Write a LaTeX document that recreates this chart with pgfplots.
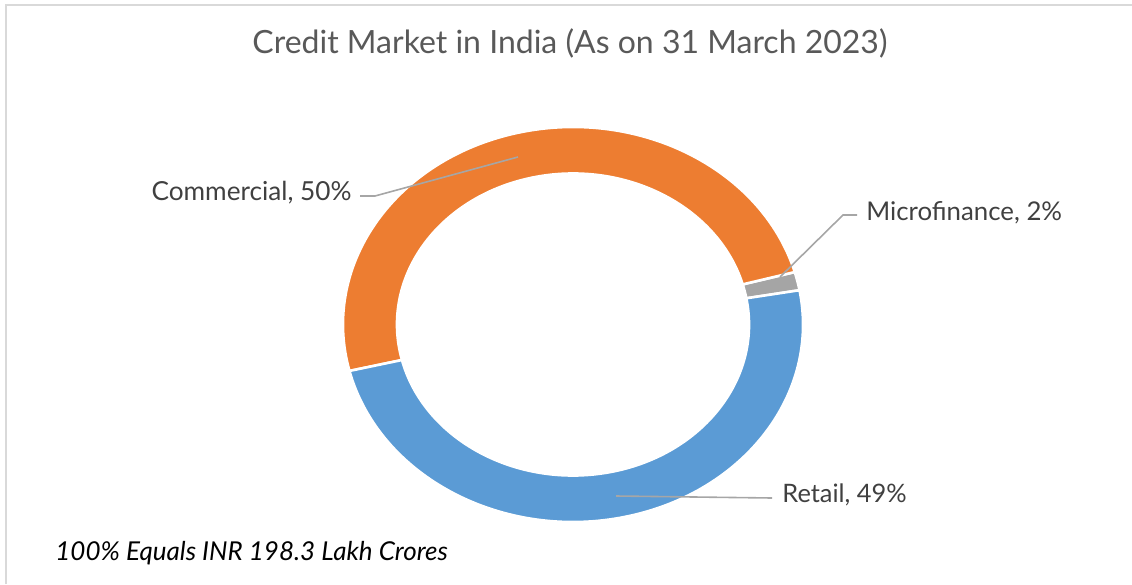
\documentclass[border=0pt]{standalone}
\usepackage{pgfplots}
\usepackage{pgfplotstable}
\pgfplotsset{compat=1.18}
\usepackage{fontspec}
\setmainfont{Lato}
\definecolor{cOrange}{HTML}{ED7D31}
\definecolor{cBlue}{HTML}{5B9BD5}
\definecolor{cGray}{HTML}{A5A5A5}
\definecolor{cLead}{HTML}{A6A6A6}
\definecolor{cTitle}{HTML}{595959}
\definecolor{cLabel}{HTML}{404040}
\definecolor{cFrame}{HTML}{D9D9D9}

\pgfplotstableread{
name value
Microfinance 1.5
Commercial 49.5
Retail 49.0
}\credit

\begin{document}
\begin{tikzpicture}
\pgfplotstablegetelem{0}{value}\of\credit \let\vA\pgfplotsretval
\pgfplotstablegetelem{1}{value}\of\credit \let\vB\pgfplotsretval
\pgfplotstablegetelem{2}{value}\of\credit \let\vC\pgfplotsretval
\pgfmathsetmacro\aA{10}
\pgfmathsetmacro\aB{\aA+3.6*\vA}
\pgfmathsetmacro\aC{\aB+3.6*\vB}
\pgfmathsetmacro\aD{\aC+3.6*\vC}
\def\Rx{115pt}\def\Ry{98.75pt}\def\rx{88pt}\def\ry{75.5pt}
\newcommand{\sector}[3]{%
  \filldraw[fill=#3, draw=white, line width=1.3pt, line join=miter]
    ([shift={(#1:\Rx\space and \Ry)}]axis cs:573,259.5)
    arc[start angle=#1, end angle=#2, x radius=\Rx, y radius=\Ry]
    -- ([shift={(#2:\rx\space and \ry)}]axis cs:573,259.5)
    arc[start angle=#2, end angle=#1, x radius=\rx, y radius=\ry]
    -- cycle;}
\begin{axis}[name=ax, hide axis, scale only axis, width=566pt, height=292pt,
  xmin=0, xmax=1132, ymin=0, ymax=584, clip=false]
  % frame
  \addplot[cFrame, line width=1pt] coordinates {(6,0) (6,579) (1132,579)};
  % donut sectors
  \sector{\aA}{\aB}{cGray}
  \sector{\aB}{\aC}{cOrange}
  \sector{\aC}{\aD}{cBlue}
  % leader lines
  \addplot[cLead, line width=0.8pt] coordinates {(518,427) (375,388) (360,388)};
  \addplot[cLead, line width=0.8pt] coordinates {(780,307) (843,369) (857,369)};
  \addplot[cLead, line width=0.8pt] coordinates {(616,88) (772,86)};
  % labels
  \node[anchor=mid east, inner sep=0pt, text=cLabel, font=\fontsize{13.1}{15}\selectfont] at (axis cs:352,389) {Commercial, 50\%};
  \node[anchor=mid west, inner sep=0pt, text=cLabel, font=\fontsize{12.9}{15}\selectfont] at (axis cs:866,369) {Microfinance, 2\%};
  \node[anchor=mid west, inner sep=0pt, text=cLabel, font=\fontsize{12.7}{15}\selectfont] at (axis cs:782,87) {Retail, 49\%};
  \node[anchor=center, inner sep=0pt, text=cTitle, font=\fontsize{16}{19}\selectfont] at (axis cs:570,541) {Credit Market in India (As on 31 March 2023)};
  \node[anchor=mid west, inner sep=0pt, text=black, font=\fontsize{13}{15}\selectfont\itshape] at (axis cs:55,29) {100\% Equals INR 198.3 Lakh Crores};
\end{axis}
\pgfresetboundingbox
\path (ax.south west) rectangle (ax.north east);
\end{tikzpicture}
\end{document}
